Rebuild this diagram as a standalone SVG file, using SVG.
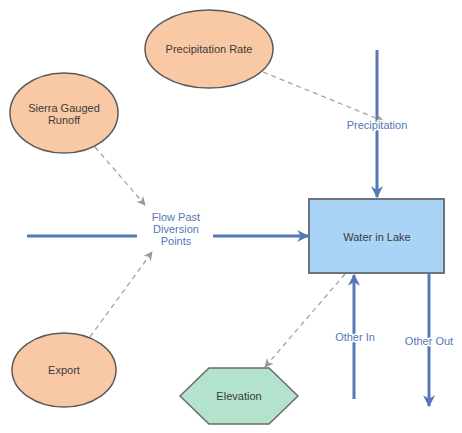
<svg xmlns="http://www.w3.org/2000/svg" width="462" height="433" viewBox="0 0 462 433">
<style>
.aux{fill:#f9c9a5;stroke:#5a5a5a;stroke-width:1.5}
.stock{fill:#a9d4f6;stroke:#6b747c;stroke-width:2}
.hex{fill:#b3e3cd;stroke:#6b6b6b;stroke-width:1.5}
.lbl{font-family:"Liberation Sans",Arial,sans-serif;font-size:11px;fill:#3b3b3b;text-anchor:middle}
.flbl{font-family:"Liberation Sans",Arial,sans-serif;font-size:11px;fill:#5478b6;text-anchor:middle;stroke:#fff;stroke-width:3px;paint-order:stroke;stroke-linejoin:round}
.flow{stroke:#5678b5;stroke-width:3;fill:none}
.link{stroke:#a3a3a3;stroke-width:1.3;stroke-dasharray:5,4;fill:none}
</style>
<defs>
<marker id="fa" viewBox="0 0 10 10" refX="9" refY="5" markerWidth="4" markerHeight="4" orient="auto" markerUnits="strokeWidth">
<path d="M0,0 L10,5 L0,10 L3,5 z" fill="#5678b5"/>
</marker>
<marker id="la" viewBox="0 0 10 10" refX="9" refY="5" markerWidth="7" markerHeight="7" orient="auto" markerUnits="strokeWidth">
<path d="M0,0 L10,5 L0,10 L3,5 z" fill="#9a9a9a"/>
</marker>
</defs>
<g id="connectors">
<line class="flow" x1="377" y1="50" x2="377" y2="197" marker-end="url(#fa)"/>
<line class="flow" x1="27" y1="236" x2="137" y2="236"/>
<line class="flow" x1="213" y1="236" x2="308" y2="236" marker-end="url(#fa)"/>
<line class="flow" x1="354" y1="399" x2="354" y2="275" marker-end="url(#fa)"/>
<line class="flow" x1="429" y1="273" x2="429" y2="406" marker-end="url(#fa)"/>
<line class="link" x1="263" y1="72" x2="383" y2="121" marker-end="url(#la)"/>
<line class="link" x1="95" y1="147" x2="145" y2="205" marker-end="url(#la)"/>
<line class="link" x1="90" y1="337" x2="152" y2="252" marker-end="url(#la)"/>
<line class="link" x1="345" y1="274" x2="265" y2="367" marker-end="url(#la)"/>
<text class="flbl" x="377" y="129">Precipitation</text>
<text class="flbl" x="176" y="221">Flow Past</text>
<text class="flbl" x="176" y="233">Diversion</text>
<text class="flbl" x="176" y="245">Points</text>
<text class="flbl" x="355" y="341">Other In</text>
<text class="flbl" x="429" y="345">Other Out</text>
</g>
<g id="precipitation-rate">
<ellipse class="aux" cx="209" cy="49" rx="64" ry="39"/>
<text class="lbl" x="209" y="53">Precipitation Rate</text>
</g>
<g id="sierra-gauged-runoff">
<ellipse class="aux" cx="64" cy="113" rx="54" ry="40"/>
<text class="lbl" x="64" y="112">Sierra Gauged</text>
<text class="lbl" x="64" y="124">Runoff</text>
</g>
<g id="export">
<ellipse class="aux" cx="64" cy="370" rx="52" ry="37"/>
<text class="lbl" x="64" y="374">Export</text>
</g>
<g id="water-in-lake">
<rect class="stock" x="309" y="199" width="135" height="74"/>
<text class="lbl" x="377" y="241">Water in Lake</text>
</g>
<g id="elevation">
<polygon class="hex" points="180,396 209,368 269,368 298,396 269,424 209,424"/>
<text class="lbl" x="239" y="400">Elevation</text>
</g>
</svg>
